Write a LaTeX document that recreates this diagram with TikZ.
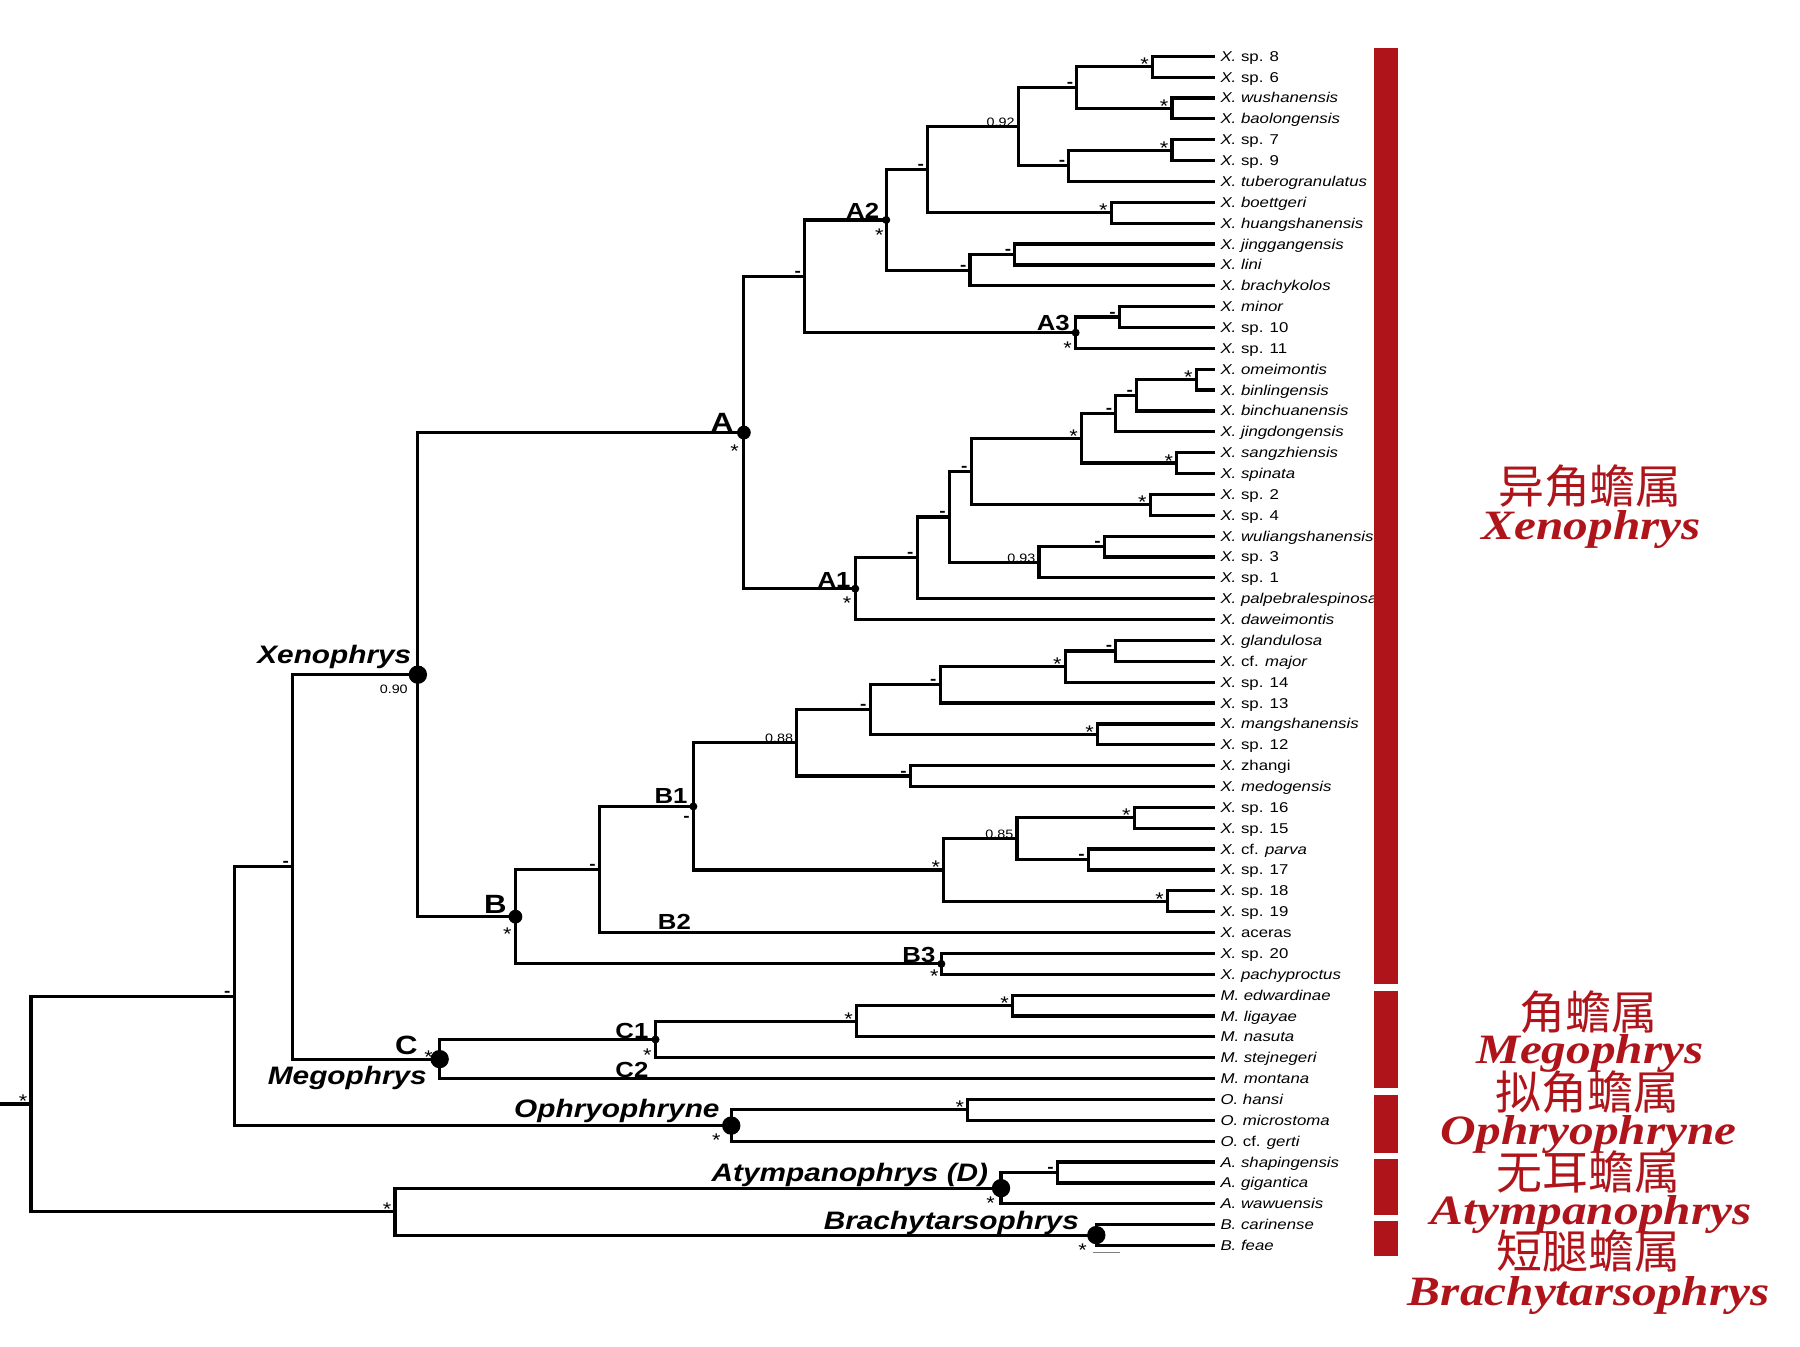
\documentclass[tikz,border=0pt]{standalone}
\usepackage{fontspec}
\setmainfont{Liberation Sans}[FakeStretch=1.18]
\newfontfamily\genusfont{Liberation Serif}[FakeStretch=1.18]
\newfontfamily\cjk{Noto Sans CJK SC}
\usetikzlibrary{calc}
\definecolor{genusred}{RGB}{175,20,26}
\newcommand{\sst}{\raisebox{-3.5pt}{\fontsize{16}{16}\selectfont *}}
\newcommand{\sdash}{{\fontsize{14}{14}\selectfont\bfseries -}}

\begin{document}
\begin{tikzpicture}[x=1pt,y=-1pt,
    branch/.style={line width=2.8pt},
    leaf/.style={anchor=west,inner xsep=5pt,inner ysep=0pt,text height=8.7pt,text depth=0pt,font=\fontsize{12.4}{14}\selectfont},
    supp/.style={anchor=base east,inner sep=0pt,xshift=-3pt,font=\fontsize{10.6}{12}\selectfont},
    supc/.style={inner sep=0pt,font=\fontsize{16}{16}\selectfont},
    clade/.style={anchor=base east,inner sep=0pt,font=\fontsize{23}{23}\selectfont\bfseries},
    subclade/.style={anchor=base east,inner sep=0pt,font=\fontsize{19}{19}\selectfont\bfseries},
    genus/.style={anchor=base east,inner sep=0pt,font=\fontsize{22}{22}\selectfont\bfseries\itshape},
    zhname/.style={anchor=base,inner sep=0pt,text=genusred,font=\cjk\fontsize{40}{40}\selectfont},
    laname/.style={anchor=base,inner sep=0pt,text=genusred,font=\genusfont\fontsize{36.4}{36}\selectfont\bfseries\itshape}]
  \useasboundingbox (0,0) rectangle (1568,1173);

  % tips
  \foreach \t [count=\i] in {{\textit{X.} sp. 8},{\textit{X.} sp. 6},{\textit{X. wushanensis}},{\textit{X. baolongensis}},
      {\textit{X.} sp. 7},{\textit{X.} sp. 9},{\textit{X. tuberogranulatus}},{\textit{X. boettgeri}},{\textit{X. huangshanensis}},
      {\textit{X. jinggangensis}},{\textit{X. lini}},{\textit{X. brachykolos}},{\textit{X. minor}},{\textit{X.} sp. 10},
      {\textit{X.} sp. 11},{\textit{X. omeimontis}},{\textit{X. binlingensis}},{\textit{X. binchuanensis}},{\textit{X. jingdongensis}},
      {\textit{X. sangzhiensis}},{\textit{X. spinata}},{\textit{X.} sp. 2},{\textit{X.} sp. 4},{\textit{X. wuliangshanensis}},
      {\textit{X.} sp. 3},{\textit{X.} sp. 1},{\textit{X. palpebralespinosa}},{\textit{X. daweimontis}},{\textit{X. glandulosa}},
      {\textit{X.} cf. \textit{major}},{\textit{X.} sp. 14},{\textit{X.} sp. 13},{\textit{X. mangshanensis}},{\textit{X.} sp. 12},
      {\textit{X.} zhangi},{\textit{X. medogensis}},{\textit{X.} sp. 16},{\textit{X.} sp. 15},{\textit{X.} cf. \textit{parva}},
      {\textit{X.} sp. 17},{\textit{X.} sp. 18},{\textit{X.} sp. 19},{\textit{X.} aceras},{\textit{X.} sp. 20},{\textit{X. pachyproctus}},
      {\textit{M. edwardinae}},{\textit{M. ligayae}},{\textit{M. nasuta}},{\textit{M. stejnegeri}},{\textit{M. montana}},
      {\textit{O. hansi}},{\textit{O. microstoma}},{\textit{O.} cf. \textit{gerti}},{\textit{A. shapingensis}},{\textit{A. gigantica}},
      {\textit{A. wawuensis}},{\textit{B. carinense}},{\textit{B. feae}}}
    \node[leaf] (l\i) at (1058,{49+(\i-1)*18.175}) {\t};

  % inner nodes with support values
  \foreach \n/\px/\py/\s in {a1/1004/58.1/\sst, a2/1021/94.4/\sst, a3/938/76.3/\sdash, a4/1021/130.8/\sst,
      a5/931/144.4/\sdash, a6/887/110.4/0.92, a7/968/185.3/\sst, a8/808/147.9/\sdash, a9/884/221.7/\sdash,
      a10/845/235.3/\sdash, a11/975/276.2/\sdash, a12/701/240.7/\sdash,
      b1/1042/330.7/\sst, b2/990/344.4/\sdash, b3/972/360.3/\sdash, b4/1025/403.4/\sst, b5/942/381.8/\sst,
      b6/1002/439.8/\sst, b7/846/410.8/\sdash, b8/962/476.1/\sdash, b9/905/489.8/0.93, b10/827/450.3/\sdash,
      b11/799/485.9/\sdash,
      c1/972/567/\sdash, c2/928/580.6/\sst, c3/819/596.5/\sdash, c4/956/639.7/\sst, c5/758/618.1/\sdash,
      c6/793/676/\sdash, c7/694/647.1/0.88, c8/988/712.4/\sst, c9/948/748.7/\sdash, c10/886/730.6/0.85,
      c11/1017/785.1/\sst, c12/822/757.8/\sst, c13/522/757.4/\sdash,
      d1/882/876/\sst, d2/746/889.6/\sst, e1/255/755.1/\sdash, f1/843/966.8/\sst, e2/204/867.8/\sdash,
      g1/921/1021.4/\sdash, g2/344/1055.5/\sst, root/27/961.6/\sst}
  {\coordinate (\n) at (\px,\py);
   \node[supp] (s\n) at (\n) {\s};}

  % marked nodes
  \foreach \n/\px/\py in {A/648/376.8, A1/745/512.8, A2/772/191.6, A3/937/289.8, B/449/798.5, B1/604/702.5,
      B3/820/839.6, X/364/587.7, C/383/922.6, C1/571/905.5, O/637/980.5, D/872/1035, Br/955/1075.9}
    \coordinate (\n) at (\px,\py);
  \coordinate (stem) at (0,961.6);

  % branches
  \foreach \p/\a/\b in {a1/l1.west/l2.west, a2/l3.west/l4.west, a3/a1/a2, a4/l5.west/l6.west, a5/a4/l7.west,
      a6/a3/a5, a7/l8.west/l9.west, a8/a6/a7, a9/l10.west/l11.west, a10/a9/l12.west, A2/a8/a10,
      a11/l13.west/l14.west, A3/a11/l15.west, a12/A2/A3,
      b1/l16.west/l17.west, b2/b1/l18.west, b3/b2/l19.west, b4/l20.west/l21.west, b5/b3/b4,
      b6/l22.west/l23.west, b7/b5/b6, b8/l24.west/l25.west, b9/b8/l26.west, b10/b7/b9, b11/b10/l27.west,
      A1/b11/l28.west, A/a12/A1,
      c1/l29.west/l30.west, c2/c1/l31.west, c3/c2/l32.west, c4/l33.west/l34.west, c5/c3/c4,
      c6/l35.west/l36.west, c7/c5/c6, c8/l37.west/l38.west, c9/l39.west/l40.west, c10/c8/c9,
      c11/l41.west/l42.west, c12/c10/c11, B1/c7/c12, c13/B1/l43.west, B3/l44.west/l45.west, B/c13/B3,
      X/A/B, d1/l46.west/l47.west, d2/d1/l48.west, C1/d2/l49.west, C/C1/l50.west, e1/X/C,
      f1/l51.west/l52.west, O/f1/l53.west, e2/e1/O, g1/l54.west/l55.west, D/g1/l56.west,
      Br/l57.west/l58.west, g2/D/Br, root/e2/g2}
    \draw[branch] (\a) -| (\p) |- (\b);
  \draw[branch] (stem) -- (root);

  \foreach \n/\r in {X/8, C/8, O/8, D/8, Br/8, A/6, B/6, A1/3.5, A2/3.5, A3/3.5, B1/3.5, B3/3.5, C1/3.5}
    \fill (\n) circle (\r pt);

  % support values under the marked nodes
  \foreach \n/\dx/\dy in {A/-8/16.5, A1/-7/12.5, A2/-6/13, A3/-7/13.5, B/-7/15, B3/-6/11, C1/-7/13.5,
      O/-13/13, D/-9/13.5, Br/-12/13.5, C/-9.6/-2}
    \node[supc] (t\n) at ($(\n)+(\dx,\dy)$) {*};
  \node[supc,font=\fontsize{10.6}{12}\selectfont] (tX) at ($(X)+(-21,13)$) {0.90};
  \node[supc,font=\fontsize{14}{14}\selectfont\bfseries] (tB1) at ($(B1)+(-6,11.1)$) {-};

  % clade names
  \foreach \n/\dx/\dy/\t in {A/-9/-1/A, B/-7.5/-3/B, C/-19/-3.6/C}
    \node[clade] (n\n) at ($(\n)+(\dx,\dy)$) {\t};
  \foreach \n/\dx/\dy/\t in {A1/-4/-1/A1, A2/-6/-1/A2, A3/-5/-1.5/A3, B1/-5/-2.5/B1, B3/-5/-1.5/B3, C1/-6/-1/C1}
    \node[subclade] (n\n) at ($(\n)+(\dx,\dy)$) {\t};
  \node[subclade] (nB2) at (602,810) {B2};
  \node[subclade] (nC2) at (565,938.5) {C2};
  \foreach \n/\dx/\dy/\t in {X/-5.5/-9.7/Xenophrys, C/-11/22/Megophrys, O/-10/-7.2/Ophryophryne,
      D/-11/-6/Atympanophrys (D), Br/-15/-5/Brachytarsophrys}
    \node[genus] (g\n) at ($(\n)+(\dx,\dy)$) {\t};

  \draw[gray,line width=1pt] (952,1091) -- (976,1091);

  % genus bars
  \foreach \ya/\yb in {42/857, 863/948, 954/1004, 1010/1058, 1064/1094}
    \fill[genusred] (1197,\ya) rectangle (1218,\yb);

  \node[zhname] (zhX) at (1385,438.2) {异角蟾属};
  \node[laname] (laX) at (1386,469.8) {Xenophrys};
  \node[zhname] (zhM) at (1384,897.2) {角蟾属};
  \node[laname] (laM) at (1385,926.8) {Megophrys};
  \node[zhname] (zhO) at (1383,966.2) {拟角蟾属};
  \node[laname] (laO) at (1384,996.8) {Ophryophryne};
  \node[zhname] (zhA) at (1384,1036.2) {无耳蟾属};
  \node[laname] (laA) at (1386,1066.8) {Atympanophrys};
  \node[zhname] (zhB) at (1384,1104.7) {短腿蟾属};
  \node[laname] (laB) at (1384,1136.8) {Brachytarsophrys};
\end{tikzpicture}
\end{document}
